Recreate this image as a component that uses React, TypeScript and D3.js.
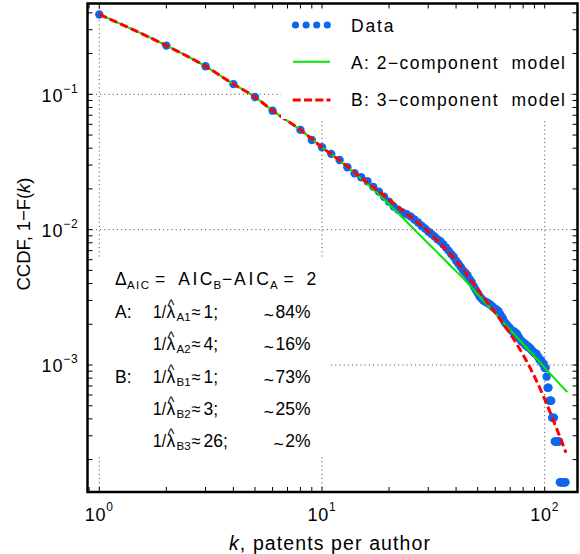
import React from "react";
import * as d3 from "d3";

// ---- Data ----
const dataK = [1, 2, 3, 4, 5, 6, 8, 9, 10, 11, 12, 13, 14, 15, 16, 17, 18, 19, 20, 21, 22, 23, 24, 25, 26, 27, 28, 29, 30, 31, 32, 33, 34, 35, 36, 37, 38, 39, 40, 41, 42, 43, 44, 45, 46, 47, 48, 49, 50, 51, 52, 53, 54, 55, 56, 57, 58, 59, 60, 61, 62, 63, 64, 65, 66, 67, 68, 69, 70, 71, 72, 73, 74, 75, 76, 77, 78, 79, 80, 81, 82, 83, 84, 85, 86, 87, 88, 89, 90, 91, 92, 93, 94, 95, 96, 97, 98, 99, 100, 101, 102, 103, 104, 105, 106, 107, 108, 109, 110, 111, 112, 113, 114, 115, 116, 117, 118, 119, 120, 121, 122, 123, 124];
const dataY = [0.389, 0.229, 0.161, 0.119, 0.0955, 0.0757, 0.0546, 0.046, 0.0406, 0.0363, 0.0327, 0.0289, 0.0261, 0.0244, 0.0228, 0.0207, 0.0191, 0.0175, 0.0161, 0.0148, 0.014, 0.0134, 0.013, 0.0125, 0.0119, 0.0113, 0.0107, 0.0102, 0.0097, 0.0093, 0.0089, 0.0085, 0.0082, 0.0078, 0.0074, 0.007, 0.0066, 0.0063, 0.0059, 0.0056, 0.0053, 0.005, 0.0048, 0.0046, 0.0043, 0.0041, 0.0038, 0.0036, 0.0034, 0.0032, 0.0031, 0.003, 0.00295, 0.0029, 0.00285, 0.0028, 0.00272, 0.00265, 0.0026, 0.00255, 0.0025, 0.00238, 0.00228, 0.0022, 0.00208, 0.00202, 0.00196, 0.0019, 0.00186, 0.0018, 0.00177, 0.00177, 0.00172, 0.0017, 0.00163, 0.00158, 0.00152, 0.0015, 0.00147, 0.00145, 0.0014, 0.0014, 0.00136, 0.00136, 0.00133, 0.0013, 0.00127, 0.00125, 0.00122, 0.00122, 0.0012, 0.00116, 0.00113, 0.00109, 0.00109, 0.00106, 0.00102, 0.00102, 0.00095, 0.00095, 0.00082, 0.00068, 0.00068, 0.000544, 0.000544, 0.000544, 0.000408, 0.000408, 0.000408, 0.000272, 0.000272, 0.000272, 0.000272, 0.000272, 0.000272, 0.000136, 0.000136, 0.000136, 0.000136, 0.000136, 0.000136, 0.000136, 0.000136];

const modelAK = [1, 2, 3, 4, 5, 6, 8, 10, 12, 15, 18, 22, 26, 30, 34, 38, 42, 50, 60, 70, 80, 90, 100, 110, 120, 126.3];
const modelAY = [0.389, 0.229, 0.161, 0.119, 0.0955, 0.0757, 0.0546, 0.0406, 0.0323, 0.0238, 0.0182, 0.0132, 0.01, 0.0079, 0.00645, 0.00535, 0.00456, 0.00333, 0.0024, 0.00182, 0.00143, 0.00116, 0.000957, 0.000806, 0.000689, 0.00063];

const modelBK = [1, 2, 3, 4, 5, 6, 8, 10, 12, 15, 18, 22, 26, 30, 35, 40, 45, 50, 56, 62.5, 70, 80, 90, 100, 110, 117, 124.6];
const modelBY = [0.389, 0.229, 0.161, 0.119, 0.0955, 0.0757, 0.0546, 0.0406, 0.0325, 0.0242, 0.0191, 0.0147, 0.0118, 0.0097, 0.0075, 0.0059, 0.0046, 0.00362, 0.00282, 0.00222, 0.0017, 0.00119, 0.00082, 0.00056, 0.00038, 0.000295, 0.000225];

const xTicks = [1, 10, 100];
const xTickExp = ["0", "1", "2"];
const yTicks = [0.1, 0.01, 0.001];
const yTickExp = ["\u22121", "\u22122", "\u22123"];

const legendLabels = ["Data", "A: 2\u2212component  model", "B: 3\u2212component  model"];

const annotGroups = ["A:", "", "B:", "", ""];
const annotSubs = ["A1", "A2", "B1", "B2", "B3"];
const annotVals = ["1;", "4;", "1;", "3;", "26;"];
const annotPcts = ["84%", "16%", "73%", "25%", "2%"];

// ---- Layout ----
const W = 580;
const H = 554;
const L = 87.5;
const R = 577.5;
const T = 3.5;
const B = 492;
const FONT = "'Liberation Sans', Arial, Helvetica, sans-serif";
const BLUE = "#0f66ee";
const GREEN = "#00e600";
const RED = "#ff0000";

export default function App() {
  const x = d3.scaleLog().domain([Math.pow(10, -0.053), Math.pow(10, 2.1473)]).range([L, R]);
  const y = d3.scaleLog().domain([Math.pow(10, -0.3291), Math.pow(10, -3.9383)]).range([T, B]);

  const line = d3
    .line<[number, number]>()
    .x((d) => x(d[0]))
    .y((d) => y(d[1]))
    .curve(d3.curveMonotoneX);

  const pathA = line(modelAK.map((k, i) => [k, modelAY[i]] as [number, number])) || "";
  const pathB = line(modelBK.map((k, i) => [k, modelBY[i]] as [number, number])) || "";

  const xMinor: number[] = [];
  for (let e = -1; e <= 2; e++) for (let m = 1; m <= 9; m++) {
    const px = x(m * Math.pow(10, e));
    if (px > L + 1 && px < R - 1) xMinor.push(px);
  }
  const yMinor: number[] = [];
  for (let e = -4; e <= -1; e++) for (let m = 1; m <= 9; m++) {
    const py = y(m * Math.pow(10, e));
    if (py > T + 1 && py < B - 1) yMinor.push(py);
  }
  const TL = 5;

  const rowY = (i: number) => 318 + i * 32.3;

  return (
    <svg
      width={W}
      height={H}
      viewBox={`0 0 ${W} ${H}`}
      style={{ position: "absolute", left: 0, top: 0, background: "#fff" }}
      fontFamily={FONT}
    >
      <rect x={0} y={0} width={W} height={H} fill="#fff" />

      {/* grid */}
      <g stroke="#444" strokeWidth={1} strokeDasharray="1 3.2">
        {xTicks.map((t) => (
          <line key={"gx" + t} x1={x(t)} x2={x(t)} y1={T} y2={B} />
        ))}
        {yTicks.map((t) => (
          <line key={"gy" + t} x1={L} x2={R} y1={y(t)} y2={y(t)} />
        ))}
      </g>

      {/* data */}
      <g fill={BLUE}>
        {dataK.map((k, i) => (
          <circle key={"d" + k} cx={x(k)} cy={y(dataY[i])} r={4.2} />
        ))}
      </g>

      {/* models */}
      <path d={pathA} fill="none" stroke={GREEN} strokeWidth={2} />
      <path d={pathB} fill="none" stroke={RED} strokeWidth={3} strokeDasharray="8 3.5" />

      {/* legend */}
      <rect x={281} y={T} width={289} height={119 - T} fill="#fff" />
      <g fill={BLUE}>
        {[0, 1, 2, 3].map((i) => (
          <circle key={"ld" + i} cx={295.5 + i * 10.6} cy={25} r={3.6} />
        ))}
      </g>
      <line x1={293} x2={330} y1={61.7} y2={61.7} stroke={GREEN} strokeWidth={2} />
      <line x1={292.7} x2={330.5} y1={100} y2={100} stroke={RED} strokeWidth={3} strokeDasharray="8 3.3" />
      {legendLabels.map((s, i) => (
        <text
          key={"lt" + i}
          x={351}
          y={[31.7, 69, 106.3][i]}
          fontSize={17.5}
          textLength={[42.5, 214, 214][i]}
          lengthAdjust="spacing"
          style={{ whiteSpace: "pre" }}
        >
          {s}
        </text>
      ))}

      {/* annotation */}
      <rect x={90} y={257} width={238} height={198} fill="#fff" />
      <g fontSize={17.5}>
        <text x={115} y={285}>{"\u0394"}</text>
        <text x={127} y={288.5} fontSize={11.5} textLength={22} lengthAdjust="spacing">AIC</text>
        <text x={155} y={285}>=</text>
        <text x={178.3} y={285} textLength={34} lengthAdjust="spacing">AIC</text>
        <text x={213.5} y={288.5} fontSize={11.5}>B</text>
        <text x={222} y={285}>{"\u2212"}</text>
        <text x={234} y={285} textLength={35} lengthAdjust="spacing">AIC</text>
        <text x={270} y={288.5} fontSize={11.5}>A</text>
        <text x={283.5} y={285}>=</text>
        <text x={306.5} y={285}>2</text>
        {annotSubs.map((sub, i) => (
          <g key={"ar" + i}>
            {annotGroups[i] ? <text x={115} y={rowY(i)}>{annotGroups[i]}</text> : null}
            <text x={153} y={rowY(i)} textLength={13} lengthAdjust="spacingAndGlyphs">1/</text>
            <text x={166.5} y={rowY(i)}>{"\u03bb"}</text>
            <text x={171} y={rowY(i) - 8} textAnchor="middle" fontSize={14}>^</text>
            <text x={176.5} y={rowY(i) + 3} fontSize={11.5}>{sub}</text>
            <text x={191.5} y={rowY(i)} textLength={9} lengthAdjust="spacingAndGlyphs">{"\u2248"}</text>
            <text x={203.5} y={rowY(i)}>{annotVals[i]}</text>
            <text x={310.5} y={rowY(i)} textAnchor="end">
              <tspan dy={3}>~</tspan>
              <tspan dy={-3} dx={1.5}>{annotPcts[i]}</tspan>
            </text>
          </g>
        ))}
      </g>

      {/* ticks */}
      <g stroke="#000" strokeWidth={1}>
        {xMinor.map((px, i) => (
          <g key={"xt" + i}>
            <line x1={px} x2={px} y1={T} y2={T + TL} />
            <line x1={px} x2={px} y1={B} y2={B - TL} />
          </g>
        ))}
        {yMinor.map((py, i) => (
          <g key={"yt" + i}>
            <line x1={L} x2={L + TL} y1={py} y2={py} />
            <line x1={R} x2={R - TL} y1={py} y2={py} />
          </g>
        ))}
      </g>

      {/* axes box */}
      <rect x={L} y={T} width={R - L} height={B - T} fill="none" stroke="#000" strokeWidth={2.5} />

      {/* tick labels */}
      {xTicks.map((t, i) => (
        <text key={"xl" + t} x={x(t)} y={520.7} fontSize={18} textAnchor="middle" letterSpacing={0.8}>
          10
          <tspan dy={-10} fontSize={12}>{xTickExp[i]}</tspan>
        </text>
      ))}
      {yTicks.map((t, i) => (
        <text key={"yl" + t} x={78.5} y={y(t) + 7.3} fontSize={18} textAnchor="end" letterSpacing={0.8}>
          10
          <tspan dy={-9} fontSize={12}>{yTickExp[i]}</tspan>
        </text>
      ))}

      {/* axis titles */}
      <text x={329.5} y={549.5} fontSize={19.5} textAnchor="middle" textLength={201} lengthAdjust="spacing">
        <tspan fontStyle="italic">k</tspan>, patents per author
      </text>
      <text
        transform={`translate(29.5, 234) rotate(-90)`}
        fontSize={18.5}
        textAnchor="middle"
        textLength={113}
        lengthAdjust="spacing"
      >
        CCDF, 1{"\u2212"}F(<tspan fontStyle="italic">k</tspan>)
      </text>
    </svg>
  );
}
